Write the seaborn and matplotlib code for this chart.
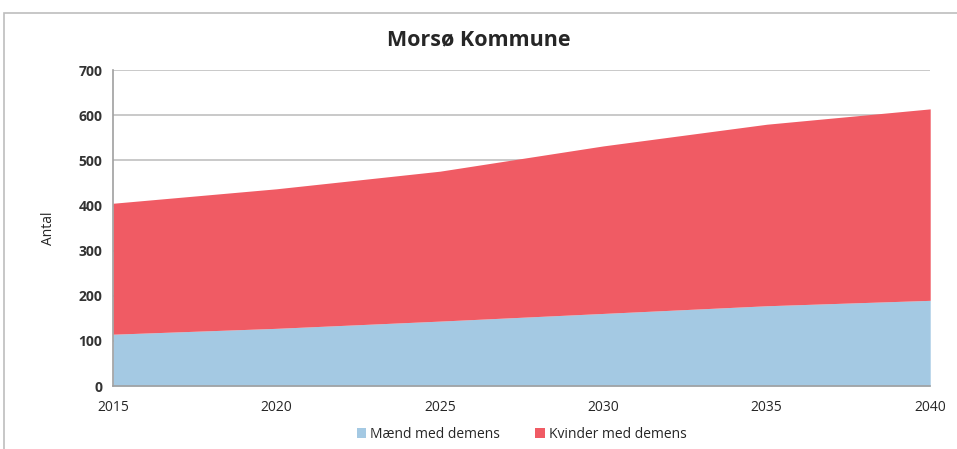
import matplotlib.pyplot as plt
import seaborn as sns
from matplotlib.patches import Rectangle

# Data
years = [2015, 2020, 2025, 2030, 2035, 2040]
maend = [115, 128, 144, 161, 178, 190]
kvinder = [290, 309, 332, 371, 402, 424]
series_labels = ["Mænd med demens", "Kvinder med demens"]
colors = ["#A4C9E3", "#F05B64"]

sns.set_style("white")
plt.rcParams["font.family"] = ["Open Sans", "DejaVu Sans"]

fig = plt.figure(figsize=(9.57, 4.49), dpi=100)
ax = fig.add_axes([0.118, 0.140, 0.854, 0.704])

# Outer chart frame
fig.patches.append(
    Rectangle((0.004, -0.05), 1.2, 1.0 - 0.029 + 0.05, transform=fig.transFigure,
              fill=False, edgecolor="#bdbdbd", linewidth=1.2)
)

ax.stackplot(years, maend, kvinder, colors=colors, labels=series_labels,
             linewidth=0, zorder=2)

ax.set_xlim(2015, 2040)
ax.set_ylim(0, 700)
ax.set_xticks(years)
ax.set_yticks(range(0, 701, 100))
ax.yaxis.grid(True, color="#c0c0c0", linewidth=1.2, zorder=0)
ax.set_axisbelow(True)

for side in ["top", "right"]:
    ax.spines[side].set_visible(False)
for side in ["left", "bottom"]:
    ax.spines[side].set_color("#a0a0a0")
    ax.spines[side].set_linewidth(1.2)
    ax.spines[side].set_zorder(3)

ax.tick_params(axis="both", direction="out", length=4, color="#a0a0a0",
               labelsize=10, width=1)
ax.tick_params(axis="x", pad=6)
for lbl in ax.get_yticklabels():
    lbl.set_fontweight("bold")
    lbl.set_color("#333333")

ax.set_ylabel("Antal", fontsize=10, labelpad=16)
fig.text(0.5, 0.911, "Morsø Kommune", ha="center", va="center",
         fontsize=15.5, fontweight="bold")

ax.legend(loc="center", bbox_to_anchor=(0.5, -0.152), ncol=2,
          frameon=False, fontsize=10, handlelength=0.7, handleheight=0.7,
          columnspacing=2.5, handletextpad=0.3)

fig.savefig("out.png", dpi=100)
